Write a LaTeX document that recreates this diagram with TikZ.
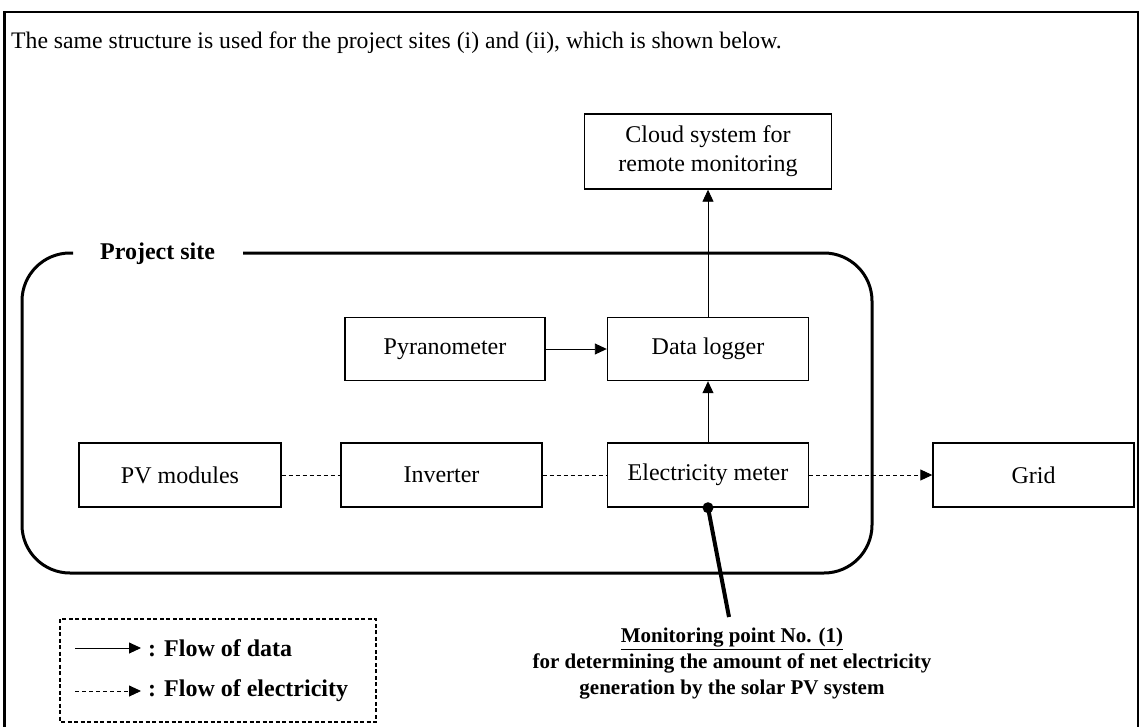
\documentclass[tikz,border=0pt]{standalone}
\usepackage{fontspec}
\setmainfont{Liberation Serif}
\usetikzlibrary{arrows.meta}
\tikzset{
  blk/.style={draw, line width=1.4pt, minimum width=201pt, minimum height=64pt, inner sep=0pt, font=\fontsize{24}{29}\selectfont, align=center},
  dataflow/.style={line width=0.9pt, -{Triangle[length=12pt,width=11pt]}},
  elecflow/.style={line width=0.9pt, dash pattern=on 4pt off 3pt},
  boldtxt/.style={font=\fontsize{21}{26}\selectfont\bfseries, inner sep=0pt},
  legtxt/.style={font=\fontsize{24}{28}\selectfont\bfseries, inner sep=0pt},
}
\begin{document}
\begin{tikzpicture}[x=1pt,y=-1pt]
\useasboundingbox (0,0) rectangle (1143,726);
\clip (0,0) rectangle (1143,726);
\fill[white] (0,0) rectangle (1143,726);
% outer frame
\draw[line width=2.5pt] (4.5,740) -- (4.5,12) -- (1138,12) -- (1138,740);
\node[anchor=base west, inner sep=0pt, font=\fontsize{23.7}{27}\selectfont] (head) at (11,48) {The same structure is used for the project sites (i) and (ii), which is shown below.};
% project site frame
\draw[line width=3pt, rounded corners=48pt] (243,253) -- (872,253) -- (872,573) -- (22,573) -- (22,253) -- (73,253);
\node[legtxt, anchor=west] (ps) at (100,254) {Project site};
% blocks
\node[blk, minimum width=247pt, minimum height=75pt] (cloud) at (708,151.5) {Cloud system for\\remote monitoring};
\node[blk, minimum width=200pt, minimum height=63pt] (pyr) at (445,349) {Pyranometer};
\node[blk, minimum height=63pt] (dl) at (708,349) {Data logger};
\node[blk, minimum width=202pt] (pv) at (180,475) {PV modules};
\node[blk] (inv) at (441.5,475) {Inverter};
\node[blk] (meter) at (708,475) {Electricity meter};
\node[blk] (grid) at (1033.5,475) {Grid};
% connectors
\draw[dataflow] (pyr) -- (dl);
\draw[dataflow] (dl) -- (cloud);
\draw[dataflow] (meter) -- (dl);
\draw[elecflow] (pv) -- (inv);
\draw[elecflow] (inv) -- (meter);
\draw[elecflow, -{Triangle[length=12pt,width=11pt]}] (meter) -- (grid);
% monitoring point
\node[boldtxt, anchor=north, align=center] (mp) at (732,628) {\underline{Monitoring point No. (1)}\\for determining the amount of net electricity\\generation by the solar PV system};
\coordinate (mpend) at (729,617);
\draw[line width=4pt] (meter.south) -- (mpend);
\fill (meter.south) circle (5.5pt);
% legend
\draw[line width=1.3pt, dash pattern=on 4pt off 2.5pt] (60,619) rectangle (376,722);
\coordinate (l1s) at (75,648);
\coordinate (l1e) at (141,648);
\coordinate (l2s) at (75,691);
\coordinate (l2e) at (141,691);
\draw[dataflow] (l1s) -- (l1e);
\draw[elecflow, -{Triangle[length=12pt,width=11pt]}] (l2s) -- (l2e);
\node[legtxt, anchor=west] (lg1) at (148,648) {: Flow of data};
\node[legtxt, anchor=west] (lg2) at (148,691) {: Flow of electricity};
\end{tikzpicture}
\end{document}
